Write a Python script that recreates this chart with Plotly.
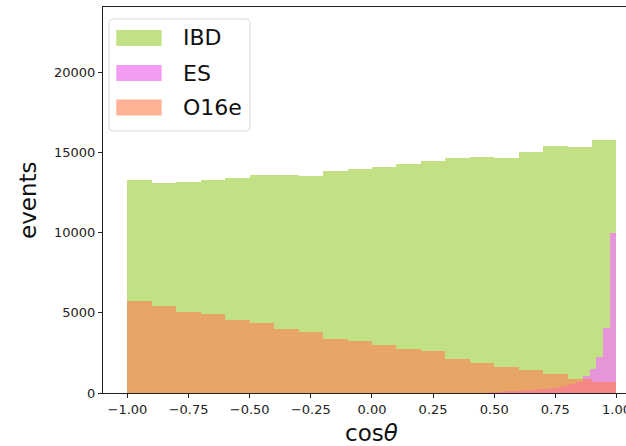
import plotly.graph_objects as go

# ---------------- data ----------------
ibd_edges_lo = -1.0
ibd_bin_w = 0.1
ibd_counts = [13290, 13125, 13150, 13270, 13400, 13590, 13580, 13520, 13835, 14000,
              14100, 14294, 14480, 14650, 14710, 14670, 15060, 15420, 15335, 15775]

o16e_edges_lo = -1.0
o16e_bin_w = 0.1
o16e_counts = [5750, 5420, 5060, 4900, 4540, 4375, 4000, 3830, 3375, 3250,
               3000, 2770, 2600, 2150, 1900, 1600, 1420, 1170, 875, 690]

es_edges_lo = 0.45
es_bin_w = 0.0275
es_counts = [30, 70, 90, 110, 130, 150, 170, 200, 230, 270,
             320, 380, 450, 560, 660, 1090, 1470, 2250, 4025, 9955]

series_names = ["IBD", "ES", "O16e"]
x_ticks = [-1.0, -0.75, -0.5, -0.25, 0.0, 0.25, 0.5, 0.75, 1.0]
y_ticks = [0, 5000, 10000, 15000, 20000]

# ---------------- styling ----------------
W, H = 626, 446
ML, MR, MT, MB = 103, 0, 7, 53
FONT = "DejaVu Sans"
col_ibd = "rgba(154,205,50,0.6)"
col_es = "rgba(238,130,238,0.8)"
col_o16 = "rgba(255,127,80,0.6)"


def centers(lo, w, n):
    return [lo + w * (i + 0.5) for i in range(n)]


fig = go.Figure()
for name, lo, w, counts, col in [
    ("IBD", ibd_edges_lo, ibd_bin_w, ibd_counts, col_ibd),
    ("ES", es_edges_lo, es_bin_w, es_counts, col_es),
    ("O16e", o16e_edges_lo, o16e_bin_w, o16e_counts, col_o16),
]:
    fig.add_trace(go.Bar(
        x=centers(lo, w, len(counts)), y=counts, width=[w] * len(counts),
        name=name, marker=dict(color=col, line=dict(width=0)),
        showlegend=False,
    ))

pw = W - ML - MR
ph = H - MT - MB


def px(xp):
    return (xp - ML) / pw


def py(yp):
    return (H - MB - yp) / ph


# custom legend (matplotlib-like)
x0, x1, y0, y1, r = 109, 250, 19, 131, 4
path = (f"M {px(x0 + r)},{py(y0)} L {px(x1 - r)},{py(y0)} Q {px(x1)},{py(y0)} {px(x1)},{py(y0 + r)} "
        f"L {px(x1)},{py(y1 - r)} Q {px(x1)},{py(y1)} {px(x1 - r)},{py(y1)} "
        f"L {px(x0 + r)},{py(y1)} Q {px(x0)},{py(y1)} {px(x0)},{py(y1 - r)} "
        f"L {px(x0)},{py(y0 + r)} Q {px(x0)},{py(y0)} {px(x0 + r)},{py(y0)} Z")
shapes = [dict(type="path", path=path, xref="paper", yref="paper",
               fillcolor="rgba(255,255,255,0.8)", line=dict(color="rgba(214,214,214,0.9)", width=1))]
annotations = []
leg_cols = [col_ibd, col_es, col_o16]
leg_y = [38, 73, 107.5]
for name, c, yc in zip(series_names, leg_cols, leg_y):
    shapes.append(dict(type="rect", xref="paper", yref="paper",
                       x0=px(116.3), x1=px(161.7), y0=py(yc - 8), y1=py(yc + 8),
                       fillcolor=c, line=dict(width=0)))
    annotations.append(dict(text=name, xref="paper", yref="paper", x=px(181), y=py(yc),
                            xanchor="left", yanchor="middle", showarrow=False,
                            font=dict(family=FONT, size=22, color="#111")))

annotations.append(dict(text="events", xref="paper", yref="paper", x=0, y=0.5,
                        xshift=-75, textangle=-90, xanchor="center", yanchor="middle",
                        showarrow=False, font=dict(family=FONT, size=23, color="#111")))
annotations.append(dict(text="cos<i>θ</i>", xref="x", yref="paper", x=0, y=0,
                        yshift=-40, xanchor="center", yanchor="middle",
                        showarrow=False, font=dict(family=FONT, size=23, color="#111")))

fig.update_layout(
    width=W, height=H,
    margin=dict(l=ML, r=MR, t=MT, b=MB, pad=0, autoexpand=False),
    paper_bgcolor="white", plot_bgcolor="white",
    barmode="overlay", bargap=0,
    shapes=shapes, annotations=annotations,
    font=dict(family=FONT, size=13, color="#222"),
    xaxis=dict(range=[-1.1, 1.039], tickvals=x_ticks, tickformat=".2f",
               showgrid=False, zeroline=False, showline=True, mirror=True,
               linecolor="#222", linewidth=1, ticks="outside", ticklen=4,
               tickcolor="#222", ticklabeloverflow="allow", automargin=False,
               tickfont=dict(family=FONT, size=13, color="#222")),
    yaxis=dict(range=[0, 24080], tickvals=y_ticks, tickformat="d",
               showgrid=False, zeroline=False, showline=True, automargin=False,
               linecolor="#222", linewidth=1, ticks="outside", ticklen=4,
               tickcolor="#222",
               tickfont=dict(family=FONT, size=13, color="#222")),
)

fig.write_html("out.html")
